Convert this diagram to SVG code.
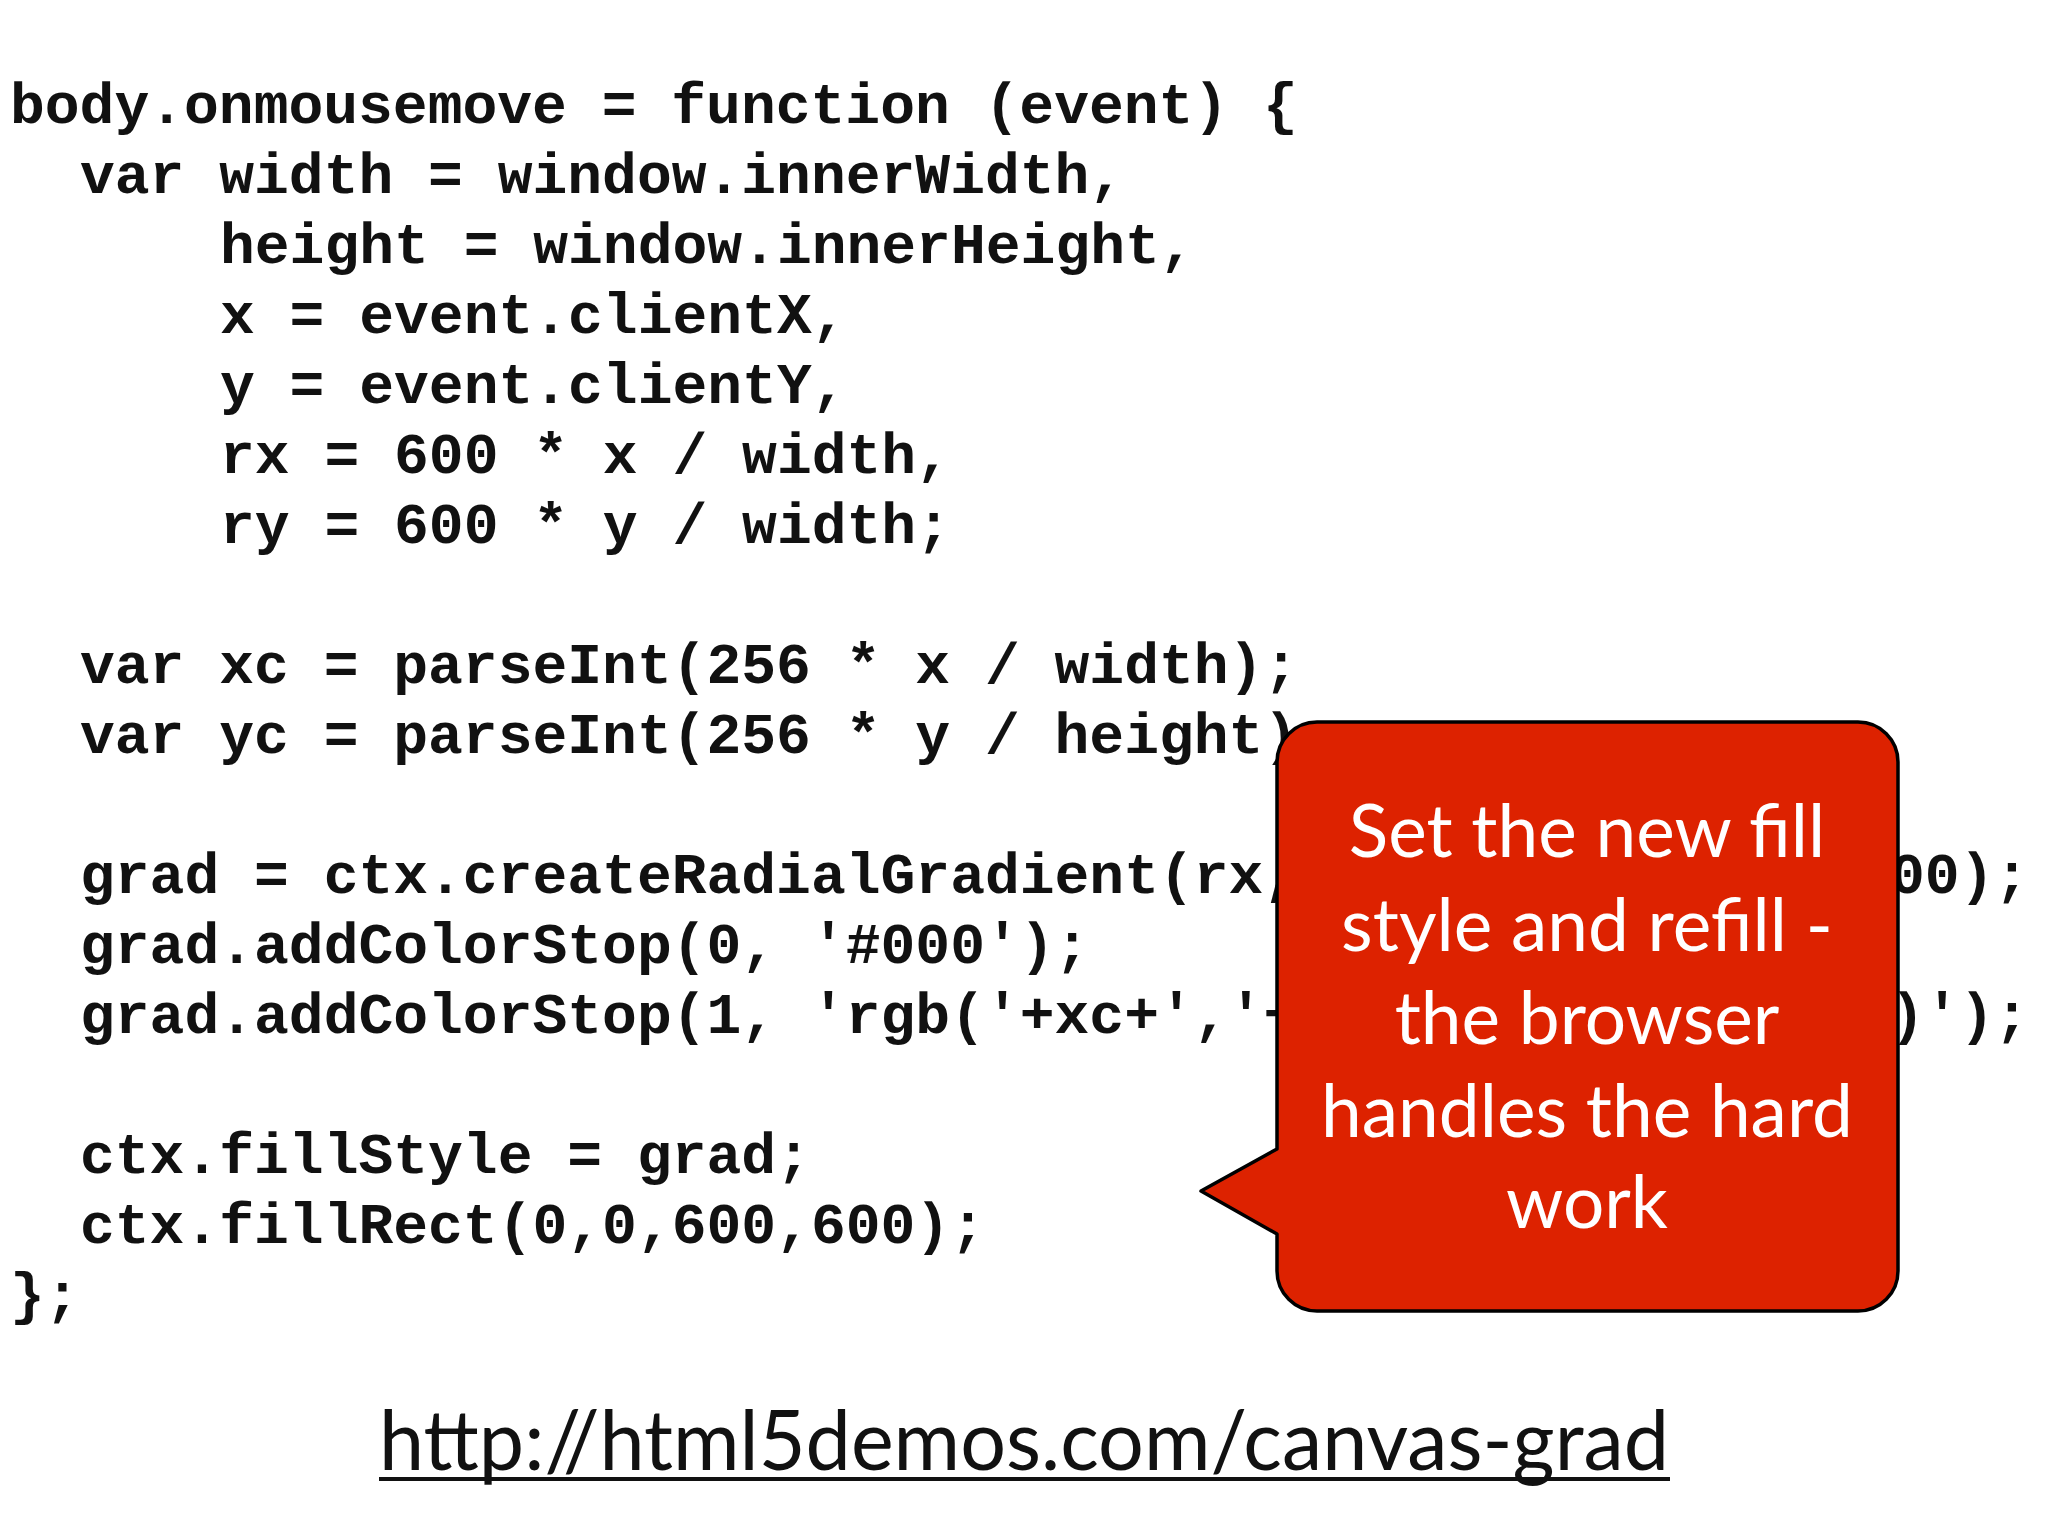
<svg xmlns="http://www.w3.org/2000/svg" width="2048" height="1536" viewBox="0 0 2048 1536">
<style>
.code{font-family:"Liberation Mono","Courier New",monospace;font-weight:bold;font-size:58px;fill:#111}
.bub{font-family:Lato,"Open Sans",sans-serif;font-size:73px;fill:#fff;text-anchor:middle}
.url{font-family:Lato,"Open Sans",sans-serif;font-size:84px;fill:#111;text-anchor:middle}
</style>
<rect width="2048" height="1536" fill="#fff"/>
<g id="code" class="code">
<text x="10" y="123">body.onmousemove = function (event) {</text>
<text x="80" y="193">var width = window.innerWidth,</text>
<text x="220" y="263">height = window.innerHeight,</text>
<text x="220" y="333">x = event.clientX,</text>
<text x="220" y="403">y = event.clientY,</text>
<text x="220" y="473">rx = 600 * x / width,</text>
<text x="220" y="543">ry = 600 * y / width;</text>
<text x="80" y="683">var xc = parseInt(256 * x / width);</text>
<text x="80" y="753">var yc = parseInt(256 * y / height);</text>
<text x="80" y="893">grad = ctx.createRadialGradient(rx, ry, 0, rx, ry, 600);</text>
<text x="80" y="963">grad.addColorStop(0, '#000');</text>
<text x="80" y="1033">grad.addColorStop(1, 'rgb('+xc+','+(255-xc)+','+yc+')');</text>
<text x="80" y="1173">ctx.fillStyle = grad;</text>
<text x="80" y="1243">ctx.fillRect(0,0,600,600);</text>
<text x="10" y="1313">};</text>
</g>
<g id="callout">
<path d="M1317,722 H1858 A40,40 0 0 1 1898,762 V1271 A40,40 0 0 1 1858,1311 H1317 A40,40 0 0 1 1277,1271 V1234 L1201,1191 L1277,1149 V762 A40,40 0 0 1 1317,722 Z" fill="#dd2200" stroke="#000" stroke-width="3.5" stroke-linejoin="round"/>
<text class="bub" x="1587" y="857">Set the new fill</text>
<text class="bub" x="1587" y="951">style and refill -</text>
<text class="bub" x="1587" y="1044">the browser</text>
<text class="bub" x="1587" y="1137">handles the hard</text>
<text class="bub" x="1587" y="1228">work</text>
</g>
<g id="url">
<text class="url" x="1024" y="1470" textLength="1290" lengthAdjust="spacingAndGlyphs">http://html5demos.com/canvas-grad</text>
<rect x="379" y="1477" width="1291" height="4" fill="#111"/>
</g>
</svg>
